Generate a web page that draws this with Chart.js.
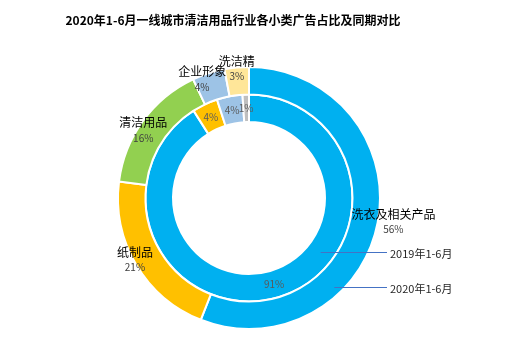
<!DOCTYPE html>
<html><head><meta charset="utf-8">
<script src="https://cdn.jsdelivr.net/npm/chart.js@4"></script>
<style>html,body{margin:0;padding:0;background:#fff}#c{display:block}</style>
</head><body>
<canvas id="c" width="513" height="353"></canvas>
<script>
const chartTitle = '2020年1-6月一线城市清洁用品行业各小类广告占比及同期对比';
const categories = ['洗衣及相关产品', '纸制品', '清洁用品', '企业形象', '洗洁精', '其他'];
const values2020 = [56, 21, 16, 4, 3, 0];
const values2019 = [91, 4, 0, 4, 0, 1];
const seriesNames = ['2020年1-6月', '2019年1-6月'];
const colors = ['#00B0F0', '#FFC000', '#92D050', '#9DC3E6', '#FFE699', '#BFBFBF'];

// style / placement config (not data)
const outerLabelGap = [16, -2, -4, -2, -1, -2];
const labelNudgeX = [0, -3, -3, -7, 0, 0];
const labelNudgeY = [-4, -4, 7, 4, 0, 0];
const leaderDy = [89, 54];
const leaderFrac = [0.72, 0.5];
const FONT = '"Noto Sans CJK SC", "Noto Sans", sans-serif';

const labelPlugin = {
  id: 'labels',
  afterDraw(chart) {
    const ctx = chart.ctx;
    ctx.save();
    // title
    ctx.fillStyle = '#000';
    ctx.font = 'bold 12px ' + FONT;
    ctx.textAlign = 'center';
    ctx.textBaseline = 'middle';
    ctx.fillText(chartTitle, 233, 20);

    const outer = chart.getDatasetMeta(0).data;
    const inner = chart.getDatasetMeta(1).data;
    // outer ring labels
    outer.forEach((arc, i) => {
      const v = values2020[i];
      if (!v) return;
      const mid = (arc.startAngle + arc.endAngle) / 2;
      const r = arc.outerRadius + outerLabelGap[i];
      const x = arc.x + Math.cos(mid) * r + labelNudgeX[i];
      const y = arc.y + Math.sin(mid) * r + labelNudgeY[i];
      ctx.textAlign = 'center';
      ctx.fillStyle = '#000';
      ctx.font = '12px ' + FONT;
      ctx.fillText(categories[i], x, y - 7.5);
      ctx.fillStyle = '#404040';
      ctx.font = '10px ' + FONT;
      ctx.fillText(v + '%', x, y + 8);
    });
    // inner ring labels
    inner.forEach((arc, i) => {
      const v = values2019[i];
      if (!v) return;
      const mid = (arc.startAngle + arc.endAngle) / 2;
      const r = (arc.outerRadius + arc.innerRadius) / 2;
      const x = arc.x + Math.cos(mid) * r;
      const y = arc.y + Math.sin(mid) * r;
      ctx.textAlign = 'center';
      ctx.fillStyle = '#595959';
      ctx.font = '10px ' + FONT;
      ctx.fillText(v + '%', x, y);
    });
    // leader lines with series names
    [outer, inner].forEach((arcs, d) => {
      const a = arcs[0];
      const rm = a.innerRadius + (a.outerRadius - a.innerRadius) * leaderFrac[d];
      const dy = leaderDy[d];
      const x0 = a.x + Math.sqrt(rm * rm - dy * dy);
      const y = Math.round(a.y + dy) + 0.5;
      const x1 = a.x + 138;
      ctx.strokeStyle = '#4472C4';
      ctx.lineWidth = 1;
      ctx.beginPath();
      ctx.moveTo(x0, y);
      ctx.lineTo(x1, y);
      ctx.stroke();
      ctx.fillStyle = '#262626';
      ctx.font = '11px ' + FONT;
      ctx.textAlign = 'left';
      ctx.fillText(seriesNames[d], x1 + 3, y + 1);
    });
    ctx.restore();
  }
};

new Chart(document.getElementById('c'), {
  type: 'doughnut',
  data: {
    labels: categories,
    datasets: [
      { label: seriesNames[0], data: values2020, backgroundColor: colors, borderColor: '#fff', borderWidth: 2 },
      { label: seriesNames[1], data: values2019, backgroundColor: colors, borderColor: '#fff', borderWidth: 2 }
    ]
  },
  options: {
    responsive: false,
    animation: false,
    cutout: '58%',
    layout: { padding: { top: 66, bottom: 23, left: 117, right: 132 } },
    plugins: { legend: { display: false }, tooltip: { enabled: false }, title: { display: false } }
  },
  plugins: [labelPlugin]
});
</script>
</body></html>
